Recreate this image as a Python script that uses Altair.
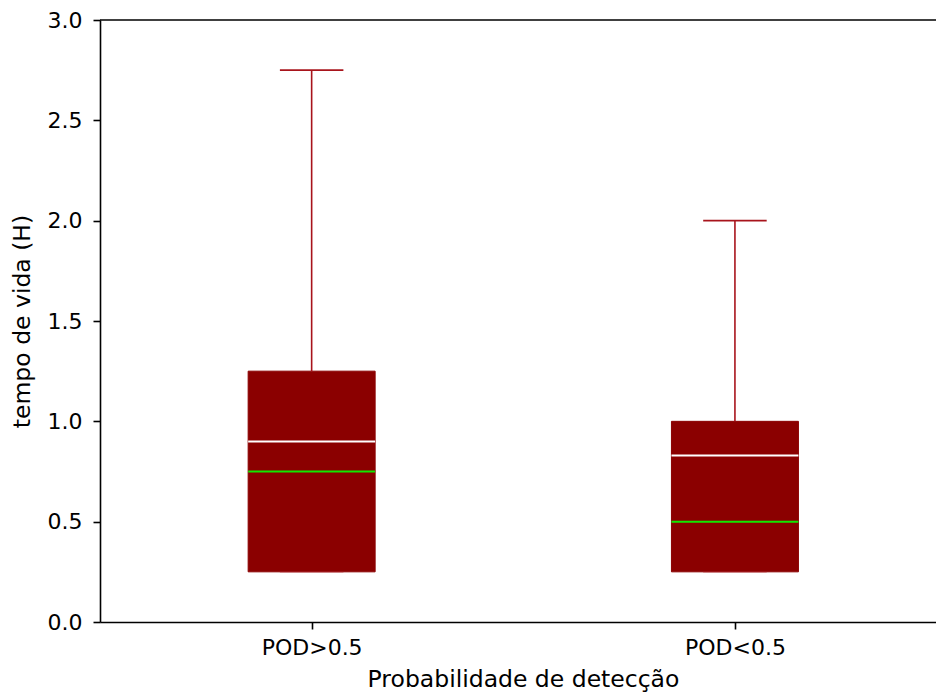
import altair as alt
import pandas as pd

# Box statistics per detection-probability group
categories = ["POD>0.5", "POD<0.5"]
positions = [1, 2]
whisker_low = [0.25, 0.25]
q1 = [0.25, 0.25]
median = [0.75, 0.50]
mean = [0.90, 0.83]
q3 = [1.25, 1.00]
whisker_high = [2.75, 2.00]
y_ticks = [0.0, 0.5, 1.0, 1.5, 2.0, 2.5, 3.0]

BOX_HALF = 0.15
CAP_HALF = 0.075
X_MIN, X_MAX = 0.5, 2.475

FONT = "DejaVu Sans"
BOX_COLOR = "#8b0000"
WHISKER_COLOR = "#a8141c"
MEDIAN_COLOR = "#10e800"

df = pd.DataFrame({
    "category": categories,
    "pos": positions,
    "wlo": whisker_low,
    "q1": q1,
    "median": median,
    "mean": mean,
    "q3": q3,
    "whi": whisker_high,
})

x_scale = alt.Scale(domain=[X_MIN, X_MAX], nice=False, zero=False)
y_scale = alt.Scale(domain=[0, 3], nice=False, zero=False)

label_expr = " : ".join(
    f"datum.value == {p} ? '{c}'" for p, c in zip(positions, categories)
) + " : ''"

axis_common = dict(
    grid=False,
    domainColor="black",
    domainWidth=1.6,
    tickColor="black",
    tickWidth=1.6,
    tickSize=7,
    labelFont=FONT,
    labelFontSize=22,
    labelColor="black",
    titleFont=FONT,
    titleFontSize=23.5,
    titleFontWeight="normal",
    titleColor="black",
)

x_axis = alt.Axis(
    title="Probabilidade de detecção",
    values=positions,
    labelExpr=label_expr,
    labelPadding=8,
    titlePadding=9,
    titleX=423,
    **axis_common,
)
y_axis = alt.Axis(
    title="tempo de vida (H)",
    values=y_ticks,
    format=".1f",
    labelPadding=11,
    titlePadding=13,
    **axis_common,
)

base = alt.Chart(df).transform_calculate(
    box_lo=f"datum.pos - {BOX_HALF}",
    box_hi=f"datum.pos + {BOX_HALF}",
    cap_lo=f"datum.pos - {CAP_HALF}",
    cap_hi=f"datum.pos + {CAP_HALF}",
)


def X(field):
    return alt.X(field, type="quantitative", scale=x_scale, axis=x_axis)


def Y(field):
    return alt.Y(field, type="quantitative", scale=y_scale, axis=y_axis)


boxes = base.mark_rect(
    fill=BOX_COLOR, stroke=BOX_COLOR, strokeWidth=1
).encode(x=X("box_lo"), x2="box_hi", y=Y("q1"), y2="q3")

upper_whisker = base.mark_rule(color=WHISKER_COLOR, strokeWidth=1.6).encode(
    x=X("pos"), y=Y("q3"), y2="whi"
)

lower_whisker = base.mark_rule(color=WHISKER_COLOR, strokeWidth=1.6).encode(
    x=X("pos"), y=Y("wlo"), y2="q1"
)

upper_cap = base.mark_rule(color=WHISKER_COLOR, strokeWidth=1.6).encode(
    x=X("cap_lo"), x2="cap_hi", y=Y("whi")
)

lower_cap = base.mark_rule(
    color=WHISKER_COLOR, strokeWidth=1.6, opacity=0.35
).encode(x=X("cap_lo"), x2="cap_hi", y=Y("wlo"))

median_line = base.mark_rule(color=MEDIAN_COLOR, strokeWidth=2).encode(
    x=X("box_lo"), x2="box_hi", y=Y("median")
)

mean_line = base.mark_rule(color="white", strokeWidth=2).encode(
    x=X("box_lo"), x2="box_hi", y=Y("mean")
)

# Top frame line of the axes
top_spine = alt.Chart(pd.DataFrame({"y": [3.0]})).mark_rule(
    color="black", strokeWidth=1.6
).encode(
    x=alt.datum(X_MIN, scale=x_scale, axis=x_axis),
    x2=alt.datum(X_MAX),
    y=Y("y"),
)

chart = alt.layer(
    boxes, upper_whisker, lower_whisker, upper_cap, lower_cap,
    median_line, mean_line, top_spine,
).properties(
    width=836,
    height=602,
    autosize=alt.AutoSizeParams(type="none"),
    padding={"left": 100, "top": 20, "right": 0, "bottom": 71},
).configure(
    background="white",
    view=alt.ViewConfig(stroke=None),
)

chart.save("out.html", embed_options={"renderer": "svg", "actions": False})
